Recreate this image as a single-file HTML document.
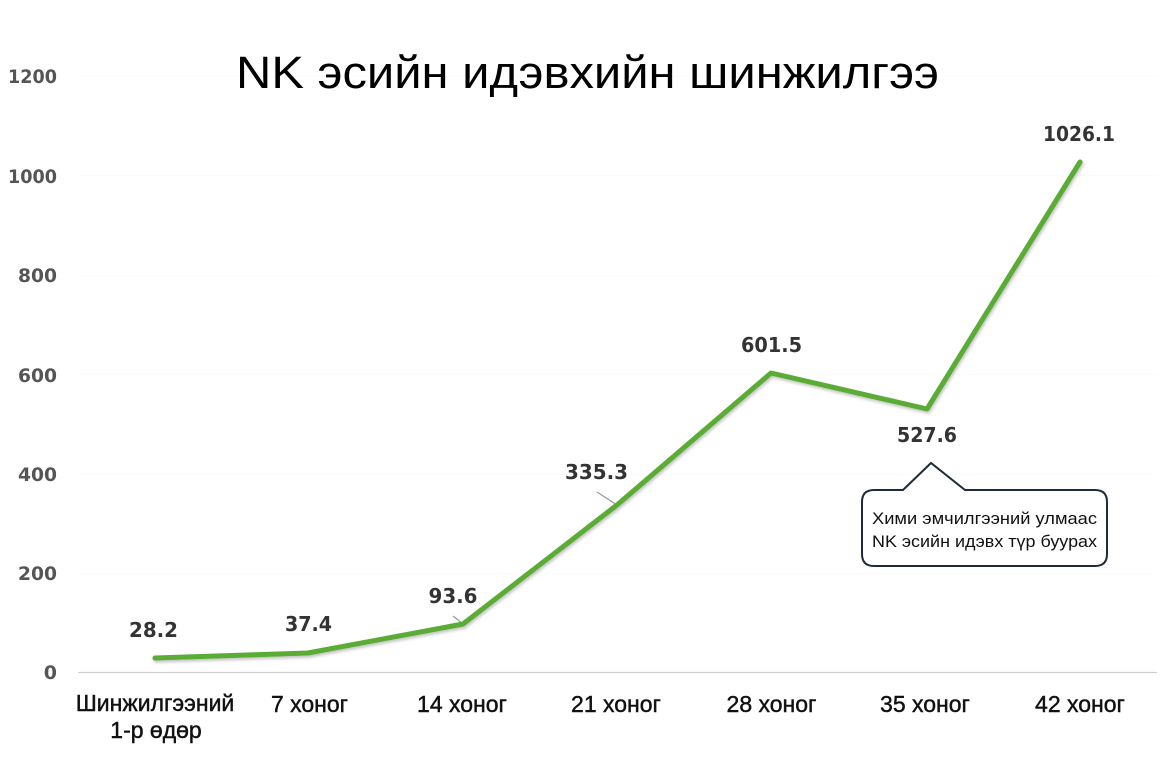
<!DOCTYPE html>
<html>
<head>
<meta charset="utf-8">
<style>
  html, body { margin: 0; padding: 0; background: #ffffff; }
  body { width: 1173px; height: 781px; overflow: hidden; }
  svg { display: block; }
</style>
</head>
<body>
<svg width="1173" height="781" viewBox="0 0 1173 781" xmlns="http://www.w3.org/2000/svg">
  <defs>
    <filter id="sh" x="-5%" y="-5%" width="110%" height="115%">
      <feGaussianBlur in="SourceAlpha" stdDeviation="1.5"/>
      <feOffset dx="1" dy="2" result="b"/>
      <feComponentTransfer><feFuncA type="linear" slope="0.25"/></feComponentTransfer>
      <feMerge><feMergeNode/><feMergeNode in="SourceGraphic"/></feMerge>
    </filter>
  </defs>
  <rect width="1173" height="781" fill="#ffffff"/>

  <!-- very faint gridlines -->
  <g stroke="#fbfbfb" stroke-width="1">
    <line x1="78" y1="76.5" x2="1157" y2="76.5"/>
    <line x1="78" y1="175.5" x2="1157" y2="175.5"/>
    <line x1="78" y1="275.5" x2="1157" y2="275.5"/>
    <line x1="78" y1="374.5" x2="1157" y2="374.5"/>
    <line x1="78" y1="474.5" x2="1157" y2="474.5"/>
    <line x1="78" y1="573.5" x2="1157" y2="573.5"/>
  </g>
  <!-- baseline -->
  <line x1="78" y1="672.5" x2="1157" y2="672.5" stroke="#cfcfcf" stroke-width="1.2"/>

  <!-- Title -->
  <text x="236" y="88" font-family="Liberation Sans, Arial, sans-serif" font-size="45" fill="#000" textLength="703" lengthAdjust="spacingAndGlyphs">NK эсийн идэвхийн шинжилгээ</text>

  <!-- Y axis labels -->
  <g font-family="DejaVu Sans, sans-serif" font-weight="bold" font-size="19" fill="#555" text-anchor="end">
    <text x="57" y="83" textLength="49" lengthAdjust="spacingAndGlyphs">1200</text>
    <text x="57" y="183" textLength="49" lengthAdjust="spacingAndGlyphs">1000</text>
    <text x="57" y="282" textLength="39" lengthAdjust="spacingAndGlyphs">800</text>
    <text x="57" y="382" textLength="39" lengthAdjust="spacingAndGlyphs">600</text>
    <text x="57" y="481" textLength="39" lengthAdjust="spacingAndGlyphs">400</text>
    <text x="57" y="580" textLength="39" lengthAdjust="spacingAndGlyphs">200</text>
    <text x="57" y="679">0</text>
  </g>

  <!-- X axis labels -->
  <g font-family="Liberation Sans, Arial, sans-serif" font-size="23" fill="#111" stroke="#111" stroke-width="0.45" text-anchor="middle">
    <text x="155" y="711">Шинжилгээний</text>
    <text x="156" y="738">1-р өдөр</text>
    <text x="309.5" y="712">7 хоног</text>
    <text x="462" y="712">14 хоног</text>
    <text x="616" y="712">21 хоног</text>
    <text x="771.5" y="712">28 хоног</text>
    <text x="925" y="712">35 хоног</text>
    <text x="1080" y="712">42 хоног</text>
  </g>

  <!-- leader lines -->
  <g stroke="#999" stroke-width="1.3">
    <line x1="453" y1="616" x2="463" y2="624"/>
    <line x1="597" y1="492" x2="617" y2="505"/>
  </g>

  <!-- Data line -->
  <polyline filter="url(#sh)" points="155,658 308,653 463,624 617,505 771,373 927,409 1080,162" fill="none" stroke="#5aac34" stroke-width="5" stroke-linecap="round" stroke-linejoin="round"/>

  <!-- Data labels -->
  <g font-family="DejaVu Sans, sans-serif" font-weight="bold" font-size="20" fill="#333" text-anchor="middle">
    <text x="153.5" y="637" textLength="49" lengthAdjust="spacingAndGlyphs">28.2</text>
    <text x="308.5" y="631" textLength="47" lengthAdjust="spacingAndGlyphs">37.4</text>
    <text x="453" y="603" textLength="49" lengthAdjust="spacingAndGlyphs">93.6</text>
    <text x="596.5" y="479" textLength="63" lengthAdjust="spacingAndGlyphs">335.3</text>
    <text x="771.5" y="352" textLength="61" lengthAdjust="spacingAndGlyphs">601.5</text>
    <text x="927" y="442" textLength="60" lengthAdjust="spacingAndGlyphs">527.6</text>
    <text x="1079" y="141" textLength="72" lengthAdjust="spacingAndGlyphs">1026.1</text>
  </g>

  <!-- Callout -->
  <path d="M874,490 L903,490 L931,463 L965,490 L1095,490 Q1107,490 1107,502 L1107,554 Q1107,566 1095,566 L874,566 Q862,566 862,554 L862,502 Q862,490 874,490 Z" fill="#ffffff" stroke="#1e2b3a" stroke-width="2" stroke-linejoin="miter"/>
  <g font-family="Liberation Sans, Arial, sans-serif" font-size="17" fill="#111" text-anchor="middle">
    <text x="984.5" y="524" textLength="225" lengthAdjust="spacingAndGlyphs">Хими эмчилгээний улмаас</text>
    <text x="984.5" y="547" textLength="225" lengthAdjust="spacingAndGlyphs">NK эсийн идэвх түр буурах</text>
  </g>
</svg>
</body>
</html>
